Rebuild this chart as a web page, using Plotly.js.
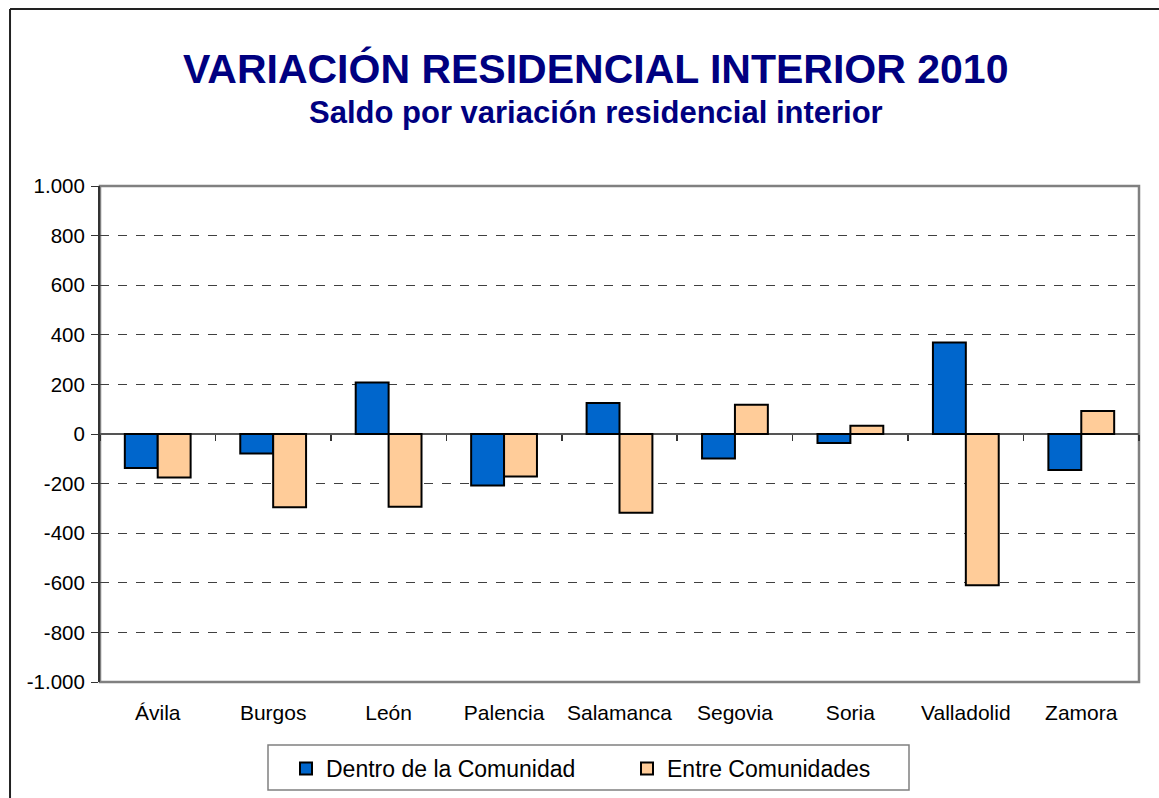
<!DOCTYPE html>
<html>
<head>
<meta charset="utf-8">
<script src="https://cdn.plot.ly/plotly-3.0.1.min.js"></script>
<style>
  body { margin: 0; background: #fff; }
  #graph { width: 1159px; height: 798px; }
</style>
</head>
<body>
<div id="graph"></div>
<script>
// provinces of Castilla y León
var provincias = ["Ávila", "Burgos", "León", "Palencia", "Salamanca", "Segovia", "Soria", "Valladolid", "Zamora"];

// saldo por variación residencial interior, 2010
var dentroComunidad = [-137, -79, 208, -208, 125, -99, -36, 369, -145];
var entreComunidades = [-175, -295, -293, -171, -318, 118, 33, -610, 93];

var yTickVals = [-1000, -800, -600, -400, -200, 0, 200, 400, 600, 800, 1000];
var yTickLabels = ["-1.000", "-800", "-600", "-400", "-200", "0", "200", "400", "600", "800", "1.000"];

// category boundaries, used for the little ticks on the zero line
var catEdges = [-0.5, 0.5, 1.5, 2.5, 3.5, 4.5, 5.5, 6.5, 7.5, 8.5];

function drawGraph() {
    var font = "Liberation Sans, Arial, sans-serif";

    var trace1 = {
        x: provincias,
        y: dentroComunidad,
        type: "bar",
        name: "Dentro de la Comunidad",
        legendwidth: 296,
        marker: { color: "#0066CC", line: { color: "#000000", width: 2 } }
    };

    var trace2 = {
        x: provincias,
        y: entreComunidades,
        type: "bar",
        name: "Entre Comunidades",
        marker: { color: "#FFCC99", line: { color: "#000000", width: 2 } }
    };

    // invisible trace so the overlay axis (ticks on the zero line) gets drawn
    var tickTrace = {
        x: catEdges,
        y: catEdges.map(function () { return null; }),
        type: "scatter", mode: "markers", xaxis: "x2", yaxis: "y",
        showlegend: false, hoverinfo: "skip"
    };

    var data = [trace1, trace2, tickTrace];

    var layout = {
        width: 1159,
        height: 798,
        paper_bgcolor: "#ffffff",
        plot_bgcolor: "#ffffff",
        font: { family: font, color: "#000000", size: 20 },
        margin: { l: 100, r: 20, t: 186, b: 116 },
        barmode: "group",
        bargap: 0.43,
        bargroupgap: 0,
        title: {
            text: "<b>VARIACIÓN RESIDENCIAL INTERIOR 2010</b>",
            font: { family: font, size: 41, color: "#000080" },
            xref: "container", x: 0.514, xanchor: "center",
            yref: "container", y: 1 - 69 / 798, yanchor: "middle"
        },
        annotations: [{
            text: "<b>Saldo por variación residencial interior</b>",
            font: { family: font, size: 31, color: "#000080" },
            xref: "paper", yref: "paper",
            x: 0.4774, y: (682 - 113) / 496,
            xanchor: "center", yanchor: "middle",
            showarrow: false
        }],
        xaxis: {
            type: "category",
            range: [-0.5, 8.5],
            showline: false,
            ticks: "",
            showgrid: false,
            zeroline: false,
            ticklabelstandoff: 16,
            tickfont: { family: font, size: 21, color: "#000000" },
            fixedrange: true
        },
        xaxis2: {
            overlaying: "x",
            anchor: "free",
            position: 0.5,
            range: [-0.5, 8.5],
            tickmode: "array",
            tickvals: catEdges,
            showticklabels: false,
            ticks: "outside",
            ticklen: 6,
            tickcolor: "#333333",
            tickwidth: 1.5,
            showline: false,
            showgrid: false,
            zeroline: false,
            fixedrange: true
        },
        yaxis: {
            range: [-1000, 1000],
            tickmode: "array",
            tickvals: yTickVals,
            ticktext: yTickLabels,
            ticks: "outside",
            ticklen: 7,
            tickcolor: "#333333",
            ticklabelstandoff: 2,
            showline: true,
            linecolor: "#333333",
            linewidth: 2,
            showgrid: true,
            gridcolor: "#404040",
            gridwidth: 1,
            griddash: "dash",
            zeroline: true,
            zerolinecolor: "#555555",
            zerolinewidth: 1.5,
            tickfont: { family: font, size: 20.5, color: "#000000" },
            fixedrange: true
        },
        legend: {
            orientation: "h",
            xref: "container", yref: "container",
            x: 286 / 1159, xanchor: "left",
            y: 1 - 747 / 798, yanchor: "top",
            borderwidth: 0,
            bgcolor: "rgba(0,0,0,0)",
            font: { family: font, size: 23, color: "#000000" },
            traceorder: "normal"
        },
        shapes: [
            // plot area frame
            { type: "rect", xref: "paper", yref: "paper", layer: "below",
              x0: 0, x1: 1, y0: 0, y1: 1,
              line: { color: "#808080", width: 2.5 } },
            // legend box
            { type: "rect", xref: "paper", yref: "paper",
              x0: (268 - 100) / 1039, x1: (909 - 100) / 1039,
              y0: (682 - 790) / 496, y1: (682 - 745) / 496,
              line: { color: "#808080", width: 1.5 } },
            // outer chart frame (left and top edges)
            { type: "line", xref: "paper", yref: "paper",
              x0: -0.0866, x1: -0.0866, y0: -0.4, y1: 1.3569,
              line: { color: "#222222", width: 2 } },
            { type: "line", xref: "paper", yref: "paper",
              x0: -0.0866, x1: 1.1, y0: 1.3569, y1: 1.3569,
              line: { color: "#222222", width: 2 } }
        ],
        showlegend: true
    };

    Plotly.newPlot("graph", data, layout, { displayModeBar: false, staticPlot: true });
}

drawGraph();
</script>
</body>
</html>
